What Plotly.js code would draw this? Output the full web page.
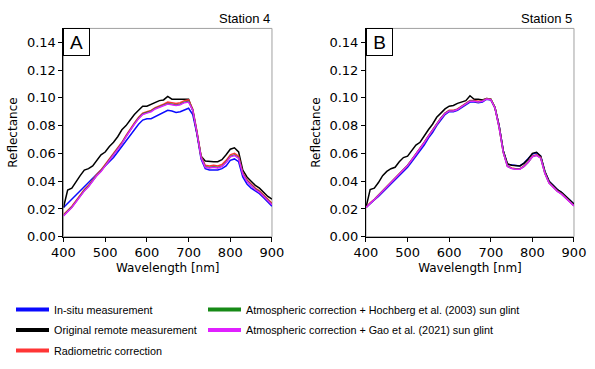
<!DOCTYPE html>
<html>
<head>
<meta charset="utf-8">
<script src="https://cdn.plot.ly/plotly-3.0.1.min.js"></script>
<style>html,body{margin:0;padding:0;background:#fff;}#chart{width:595px;height:369px;}</style>
</head>
<body>
<div id="chart"></div>
<script>
// Wavelengths (nm)
var wavelength = [400,410,420,430,440,450,460,470,480,490,500,510,520,530,540,550,560,570,580,590,600,610,620,630,640,650,660,670,680,690,700,710,720,730,740,750,760,770,780,790,800,810,820,830,840,850,860,870,880,890,900];

var seriesNames = ["In-situ measurement","Original remote measurement","Radiometric correction","Atmospheric correction + Hochberg et al. (2003) sun glint","Atmospheric correction + Gao et al. (2021) sun glint"];
var seriesColors = ["#0a0aff","#000000","#ff3535","#168a16","#e020ff"];

// Station 4 (panel A)
var s4_insitu = [0.021,0.024,0.027,0.030,0.033,0.036,0.039,0.042,0.045,0.048,0.051,0.054,0.057,0.061,0.065,0.069,0.073,0.077,0.081,0.084,0.085,0.085,0.0865,0.088,0.0895,0.091,0.0905,0.0895,0.090,0.0915,0.0925,0.088,0.074,0.056,0.049,0.048,0.048,0.048,0.049,0.051,0.055,0.056,0.054,0.043,0.038,0.035,0.033,0.031,0.028,0.025,0.022];
var s4_original = [0.021,0.0336,0.035,0.040,0.044,0.048,0.049,0.051,0.055,0.059,0.061,0.065,0.068,0.072,0.077,0.080,0.084,0.088,0.091,0.094,0.094,0.0955,0.097,0.098,0.0985,0.101,0.099,0.099,0.099,0.0995,0.099,0.091,0.074,0.058,0.0545,0.054,0.054,0.054,0.0555,0.059,0.063,0.064,0.061,0.048,0.043,0.040,0.037,0.035,0.032,0.029,0.027];
var s4_radiometric = [0.016,0.019,0.022,0.026,0.030,0.034,0.037,0.041,0.045,0.048,0.052,0.056,0.060,0.064,0.068,0.073,0.078,0.082,0.086,0.089,0.090,0.091,0.093,0.094,0.0955,0.097,0.0965,0.096,0.0965,0.098,0.0985,0.092,0.076,0.058,0.0515,0.051,0.0515,0.051,0.052,0.055,0.059,0.060,0.058,0.046,0.041,0.038,0.035,0.033,0.030,0.027,0.024];
var s4_hochberg = [0.0153,0.0183,0.0213,0.0253,0.0293,0.0333,0.0363,0.0403,0.0443,0.0473,0.0513,0.0553,0.0593,0.0633,0.0673,0.0723,0.0773,0.0813,0.0853,0.0884,0.0894,0.0904,0.0924,0.0934,0.0944,0.0959,0.0954,0.0949,0.0954,0.0969,0.0974,0.0913,0.0753,0.0573,0.0503,0.0498,0.0503,0.0498,0.0508,0.0538,0.0578,0.0588,0.0568,0.0453,0.0403,0.0373,0.0343,0.0323,0.0293,0.0263,0.0233];
var s4_gao = [0.015,0.018,0.021,0.025,0.029,0.033,0.036,0.040,0.044,0.047,0.051,0.055,0.059,0.063,0.067,0.072,0.077,0.081,0.085,0.088,0.089,0.090,0.092,0.093,0.094,0.0955,0.095,0.0945,0.095,0.0965,0.097,0.091,0.075,0.057,0.050,0.0495,0.050,0.0495,0.0505,0.0535,0.0575,0.0585,0.0565,0.045,0.040,0.037,0.034,0.032,0.029,0.026,0.023];

// Station 5 (panel B)
var s5_insitu = [0.021,0.024,0.0265,0.029,0.032,0.035,0.038,0.041,0.044,0.047,0.050,0.054,0.058,0.062,0.066,0.071,0.075,0.080,0.084,0.088,0.090,0.090,0.091,0.093,0.095,0.097,0.097,0.0965,0.097,0.099,0.0985,0.093,0.080,0.062,0.052,0.0515,0.051,0.051,0.053,0.056,0.0595,0.0605,0.058,0.047,0.040,0.037,0.034,0.032,0.029,0.026,0.0235];
var s5_original = [0.021,0.034,0.035,0.039,0.044,0.047,0.049,0.050,0.054,0.057,0.058,0.062,0.066,0.068,0.073,0.077,0.081,0.086,0.089,0.092,0.094,0.0945,0.096,0.097,0.098,0.1015,0.099,0.099,0.0985,0.0995,0.099,0.093,0.080,0.062,0.0525,0.0515,0.051,0.051,0.053,0.056,0.060,0.0608,0.058,0.047,0.040,0.037,0.034,0.032,0.029,0.026,0.0235];
var s5_radiometric = [0.021,0.0245,0.027,0.030,0.033,0.036,0.039,0.042,0.045,0.048,0.0515,0.0555,0.0595,0.0635,0.068,0.0725,0.077,0.0815,0.0855,0.089,0.091,0.091,0.092,0.094,0.096,0.098,0.098,0.0975,0.098,0.0995,0.099,0.093,0.079,0.061,0.051,0.0495,0.049,0.049,0.051,0.054,0.058,0.059,0.057,0.046,0.039,0.036,0.033,0.031,0.028,0.025,0.0225];
var s5_hochberg = [0.021,0.0243,0.0268,0.0298,0.0328,0.0358,0.0388,0.0418,0.0448,0.0478,0.0513,0.0553,0.0593,0.0633,0.0678,0.0723,0.0768,0.0813,0.0853,0.0888,0.0907,0.0907,0.0917,0.0937,0.0957,0.0977,0.0976,0.0971,0.0977,0.0992,0.0988,0.0928,0.0788,0.0608,0.0507,0.0492,0.0487,0.0487,0.0507,0.0537,0.0577,0.0587,0.0567,0.0457,0.0388,0.0358,0.0328,0.0308,0.0278,0.0248,0.0223];
var s5_gao = [0.021,0.0242,0.0267,0.0297,0.0327,0.0357,0.0387,0.0417,0.0447,0.0477,0.0512,0.0552,0.0592,0.0632,0.0677,0.0722,0.0767,0.0812,0.0852,0.0887,0.0906,0.0906,0.0916,0.0936,0.0956,0.0976,0.0975,0.097,0.0976,0.0991,0.0987,0.0927,0.0787,0.0607,0.0506,0.0491,0.0486,0.0486,0.0506,0.0536,0.0576,0.0586,0.0566,0.0456,0.0387,0.0357,0.0327,0.0307,0.0277,0.0247,0.0222];

var xTicks = [400,500,600,700,800,900];
var yTicks = [0.00,0.02,0.04,0.06,0.08,0.10,0.12,0.14];
var panelLabels = ["A","B"];
var panelTitles = ["Station 4","Station 5"];

var s4 = [s4_insitu, s4_original, s4_radiometric, s4_hochberg, s4_gao];
var s5 = [s5_insitu, s5_original, s5_radiometric, s5_hochberg, s5_gao];

var traces = [];
[s4, s5].forEach(function(set, p){
  set.forEach(function(vals, i){
    traces.push({
      x: wavelength, y: vals, type: 'scatter', mode: 'lines',
      xaxis: p === 0 ? 'x' : 'x2', yaxis: p === 0 ? 'y' : 'y2',
      line: {color: seriesColors[i], width: 1.5},
      showlegend: false, hoverinfo: 'skip'
    });
  });
});
// legend entries
seriesNames.forEach(function(name, i){
  traces.push({
    x: [null], y: [null], type: 'scatter', mode: 'lines', name: name,
    xaxis: 'x', yaxis: 'y', legendgroup: 'g' + i,
    line: {color: seriesColors[i], width: 4},
    legend: i < 3 ? 'legend' : 'legend2', showlegend: true
  });
});

var tickFont = {family: 'DejaVu Sans', size: 13, color: '#000'};
var titleFont = {family: 'DejaVu Sans', size: 12, color: '#000'};
function xax(dom, anchor){
  return {domain: dom, anchor: anchor, range: [400, 900], tickvals: xTicks,
    ticks: 'outside', ticklen: 4, tickwidth: 1, tickcolor: '#000',
    showline: true, linecolor: '#000', linewidth: 1, showgrid: false, zeroline: false,
    tickfont: tickFont, title: {text: 'Wavelength [nm]', font: titleFont, standoff: 4}};
}
function yax(anchor){
  return {domain: [0.3585, 0.923], anchor: anchor, range: [0, 0.15], tickvals: yTicks,
    tickformat: '.2f', ticks: 'outside', ticklen: 4, tickwidth: 1, tickcolor: '#000',
    showline: true, linecolor: '#000', linewidth: 1, showgrid: false, zeroline: false,
    tickfont: tickFont, title: {text: 'Reflectance', font: titleFont, standoff: 6}};
}

var legFont = {family: 'Liberation Sans', size: 10.8, color: '#000'};
var layout = {
  width: 595, height: 369,
  margin: {l: 0, r: 0, t: 0, b: 0},
  paper_bgcolor: '#fff', plot_bgcolor: '#fff',
  showlegend: true,
  xaxis: xax([0.1067, 0.4571], 'y'),
  yaxis: yax('x'),
  xaxis2: xax([0.6151, 0.9647], 'y2'),
  yaxis2: yax('x2'),
  legend: {x: 11/595, y: 1 - 295/369, xanchor: 'left', yanchor: 'top', font: legFont, bgcolor: 'rgba(0,0,0,0)', borderwidth: 0, itemwidth: 33, tracegroupgap: 1.5},
  legend2: {x: 203/595, y: 1 - 295/369, xanchor: 'left', yanchor: 'top', font: legFont, bgcolor: 'rgba(0,0,0,0)', borderwidth: 0, itemwidth: 33, tracegroupgap: 1.5},
  shapes: [
    {type: 'rect', xref: 'x domain', yref: 'y domain', x0: 0, x1: 1, y0: 0, y1: 1, line: {color: '#a0a0a0', width: 1}, layer: 'below'},
    {type: 'rect', xref: 'x2 domain', yref: 'y2 domain', x0: 0, x1: 1, y0: 0, y1: 1, line: {color: '#a0a0a0', width: 1}, layer: 'below'}
  ],
  annotations: [
    {xref: 'x domain', yref: 'y domain', x: 1, y: 1, xanchor: 'right', yanchor: 'bottom', showarrow: false, text: panelTitles[0], font: {family: 'Liberation Sans', size: 13, color: '#000'}},
    {xref: 'x2 domain', yref: 'y2 domain', x: 1, y: 1, xanchor: 'right', yanchor: 'bottom', showarrow: false, text: panelTitles[1], font: {family: 'Liberation Sans', size: 13, color: '#000'}},
    {xref: 'x domain', yref: 'y domain', x: 0, y: 1, xanchor: 'left', yanchor: 'top', showarrow: false, text: panelLabels[0], width: 25, height: 26, borderpad: 0, borderwidth: 1, bordercolor: '#000', bgcolor: '#fff', font: {family: 'Liberation Sans', size: 19, color: '#000'}},
    {xref: 'x2 domain', yref: 'y2 domain', x: 0, y: 1, xanchor: 'left', yanchor: 'top', showarrow: false, text: panelLabels[1], width: 25, height: 26, borderpad: 0, borderwidth: 1, bordercolor: '#000', bgcolor: '#fff', font: {family: 'Liberation Sans', size: 19, color: '#000'}}
  ]
};

Plotly.newPlot('chart', traces, layout, {displayModeBar: false, staticPlot: true});
</script>
</body>
</html>
